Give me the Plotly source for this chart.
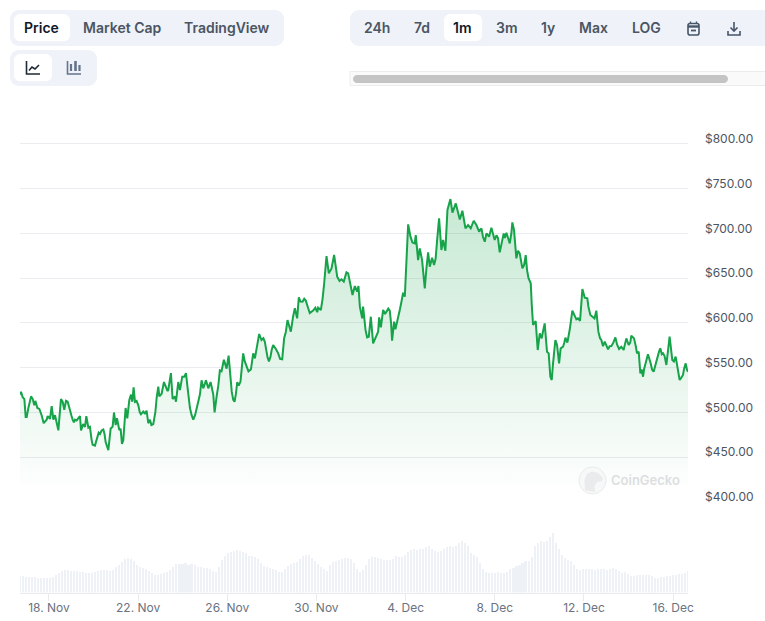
import pandas as pd
import plotly.graph_objects as go

W, H = 765, 621

# Hours elapsed since the first sample, and the price at each of those hours (USD)
price_hours = [
    0, 1.1, 2.9, 4.7, 6.1, 7.2, 9, 11.9, 13.7, 15.4, 16.5, 18.7, 20.8, 23.3, 25.5, 28.7, 29.8, 32.3, 34.1, 35.9,
    37.7, 41.3, 44.1, 45.9, 47.7, 49.5, 51.3, 53.8, 56.7, 59.2, 61, 64.6, 65.7, 70, 71.4, 73.6, 75.3, 78.2, 80.7, 82.5,
    84.7, 87.9, 89.7, 92.2, 95.1, 97.6, 99.7, 101.2, 103, 104.4, 106.9, 108.3, 109.8, 111.2, 113.7, 115.5, 117.7, 119.5, 120.9, 122.3,
    123.8, 127.4, 130.2, 132.7, 136.3, 138.1, 139.9, 143.5, 145.7, 148.9, 150, 152.5, 155, 157.9, 159.6, 162.5, 164.3, 166.8, 167.9, 170.4,
    172.2, 174.7, 176.9, 178.7, 180.5, 184.8, 186.5, 190.1, 193.7, 195.5, 197.3, 200.2, 202.7, 205.2, 208.1, 209.5, 211.7, 215.2, 217, 219.5,
    222.4, 224.6, 226.7, 229.6, 232.5, 233.9, 237.4, 240.3, 243.9, 248.6, 251.1, 252.9, 257.5, 260, 263.6, 266.5, 269.7, 272.6, 278, 282.3,
    284.4, 288, 291.6, 295.9, 298.4, 300.2, 304.2, 307.7, 310.3, 315.6, 321, 323.9, 325.7, 327.5, 330, 332.5, 335.4, 338.2, 341.5, 346.1,
    348.6, 351.5, 353.3, 355.8, 358, 360.5, 363, 364.4, 365.9, 368.4, 369.4, 372, 373.7, 375.5, 377.7, 380.2, 385.6, 386.7, 388.5, 391,
    394.6, 398.1, 400.6, 402.8, 404.2, 407.1, 410.7, 412.5, 414.3, 417.9, 420.4, 425, 426.1, 428.6, 430.4, 432.9, 435.8, 439.4, 441.2, 443.7,
    445.8, 449.1, 451.2, 453.7, 455.5, 458, 460.2, 463.4, 465.6, 469.2, 473.5, 476.3, 479.6, 482.4, 485.3, 488.5, 491.4, 494.3, 496.8, 500.4,
    502.2, 505, 507.5, 511.1, 514.7, 516.5, 520.8, 523.7, 527.3, 530.1, 531.9, 534.4, 536.2, 538, 540.9, 542.7, 544.5, 545.9, 549.9, 552.4,
    555.2, 557.4, 559.6, 561.7, 564.9, 567.4, 569.2, 571, 572.5, 573.9, 576.4, 578.2, 580.4, 582.1, 584.7, 587.2, 589.3, 591.8, 594.7, 597.2,
    600.8, 603, 605.5, 608, 610.8, 614.1, 616.9, 620.5, 622.7, 625.9, 629.5, 633.1, 636.7, 641, 642.8, 647.4, 649.9, 652.8, 655.3, 658.2,
    661.1, 664.3, 666.1, 667.9, 670.8, 673.6, 676.1, 679, 682.2, 684.4, 689.4, 692.3, 695.9, 699.4, 702.3, 705.9, 710.2, 713.8, 716.7, 719.2,
]
price_usd = [
    520, 523, 517, 515, 495, 495, 505, 518, 515, 508, 513, 505, 504, 497, 488, 492, 496, 493, 507, 492,
    497, 480, 515, 512, 503, 513, 512, 501, 492, 492, 491, 496, 480, 484, 496, 483, 484, 464, 463, 469,
    477.5, 480, 481, 467, 458, 482, 484, 500, 486, 493.5, 480.5, 482, 465, 469, 505, 493.5, 514, 520, 512, 528,
    512, 508, 498, 501, 502, 488, 492, 487, 500, 529, 518, 521, 534, 527, 525, 544, 515, 518, 512, 534,
    525, 540, 540, 544, 527, 497, 492, 505, 520, 536, 527, 536, 527, 534, 520, 500, 518, 547, 546, 559,
    549, 563.5, 536, 514, 521, 534, 534.5, 566, 551, 548, 566, 560.5, 587.7, 581, 579, 561.6, 562.4, 575.4, 566, 559.4,
    582.9, 603.3, 590.3, 616.4, 605.2, 628.7, 623.8, 625, 616.4, 613.8, 617.1, 614.5, 626.4, 644.3, 674.8, 655.5, 661, 676, 651.7, 648.8,
    646.2, 656.6, 655.5, 643.6, 631.3, 641.3, 635, 641.3, 618.2, 605.2, 618.2, 592.2, 584, 584.7, 607, 577.3, 590.3, 606.3, 595.2, 614.5,
    612.7, 613.8, 580.3, 601.5, 593, 605.2, 623.8, 633.9, 629.4, 710.2, 696.4, 689, 698.2, 670.3, 683.3, 670.3, 638.7, 678.9, 662.9, 672.9,
    664.7, 692.7, 716.9, 681.5, 692.7, 680.7, 726.2, 738.4, 723.2, 733.6, 715.7, 725.4, 705.7, 709.4, 705.7, 714.2, 709.4, 702, 705.7, 690.8,
    700.1, 696.4, 706.4, 692.7, 694.5, 678.9, 700.1, 700.8, 688.9, 712.4, 703.8, 672.2, 680.7, 677.8, 661, 664.7, 675.9, 659.1, 644.3, 597.7,
    602.2, 569.8, 588.4, 582.8, 599.6, 567.9, 566.1, 540, 536.3, 554.9, 581, 575.4, 554.9, 571.7, 573.5, 583.6, 578, 592.1, 613.7, 607,
    605.2, 602.5, 637.9, 628.2, 627.5, 608.9, 606.3, 613.7, 590.3, 581, 579.1, 570.5, 574.3, 583.9, 576.1, 573.5, 569.8, 582.8, 575.4, 585.8,
    582.8, 566.1, 568, 543.7, 540, 556.8, 565, 554.9, 545.6, 554.9, 571.7, 566.1, 553.1, 584.7, 558.6, 562.4, 536.3, 541.9, 554.9, 545.6,
]

# Additional readings between the swings above
detail_hours = [
    27, 39.5, 55.5, 58, 63, 68, 77, 86.2, 91, 125.5, 129, 134.5, 137, 141.5, 147.2, 158.9, 183, 188.5, 192, 199,
    204, 213.5, 221, 228, 231, 235.5, 239, 242, 246, 250, 255, 262, 265, 268, 271, 275.5, 280, 286.2, 290, 294,
    302, 306, 312, 318, 320, 344, 382.5, 384, 393, 396.5, 399.5, 409, 416.5, 422.5, 437.5, 447.5, 471.5, 478, 498.5, 509,
    513, 518.5, 522, 525.5, 529, 547.5, 551, 563, 575, 586, 599, 612, 618.5, 624.5, 627.7, 631.3, 634.8, 638.8, 645, 651,
    657, 663, 669.3, 672, 680.5, 686.9, 688, 691, 694, 697.6, 704, 708, 712, 715, 718,
]
detail_usd = [
    490, 489, 496, 489, 494, 487, 470, 476, 476, 513, 500, 499, 497, 486, 517, 524, 505, 497, 512, 532,
    530, 530, 553, 523, 512, 530, 552, 557, 546, 556, 575, 583, 570, 557, 570, 571, 560, 590, 594, 607,
    624, 627, 611, 617, 612, 647, 583, 585, 610, 616, 600, 615, 680, 690, 660, 672, 722, 712, 696, 700,
    698, 690, 695, 695, 700, 650, 620, 590, 569, 578, 604, 618, 605, 583, 574, 575, 574, 578, 571, 575,
    578, 574, 548, 549, 548, 562, 568, 565, 563, 570, 557, 547, 539, 549, 548,
]

# Traded volume per interval, in units of $100M
volume_100m = [
    16.5, 16.5, 16, 16, 16, 15.5, 15, 15, 14.5, 14.5, 15, 16, 17.5, 20, 22, 22.5, 22.5, 22, 21.5, 21.5,
    21, 20.5, 20, 19.5, 20, 21, 22, 22.5, 23, 23, 22, 23, 26, 28, 31, 34, 35, 34, 32, 28,
    26, 25, 24, 22, 20, 18, 18, 19, 20, 21, 23, 26, 29, 29, 29, 30, 28, 29, 28, 26,
    26, 25, 25, 24, 22, 21, 26, 33, 37, 40, 41, 42, 43, 42, 41, 40, 37, 37, 36, 34,
    30, 27, 26, 25, 24, 23, 21, 21, 24, 27, 29, 30, 31, 34, 37, 38, 38, 35, 32, 29,
    26, 24, 22, 28, 31, 32, 33, 34, 35, 35, 34, 30, 24, 21, 23, 28, 34, 36, 36, 35,
    34, 33, 33, 33, 34, 37, 36, 36, 38, 41, 43, 44, 43, 44, 44, 46, 47, 44, 42, 41,
    42, 44, 46, 47, 46, 47, 50, 52, 50, 47, 40, 38, 36, 30, 24, 21, 20, 20, 20, 21,
    20, 20, 21, 24, 25, 27, 28, 30, 32, 32, 36, 47, 50, 52, 51, 52, 56, 60, 50, 44,
    38, 35, 33, 32, 28, 24, 23, 24, 24, 24, 24, 23, 24, 24, 24, 23, 24, 25, 24, 22,
    20, 21, 19, 17, 17, 18, 18, 18, 18, 18, 17, 15, 15, 16, 16, 17, 17, 18, 18, 19,
    19, 20, 22,
]

series_start = pd.Timestamp("2024-11-16 16:48")
axis_end = series_start + pd.Timedelta(hours=719.2)

date_ticks = ["2024-11-18", "2024-11-22", "2024-11-26", "2024-11-30", "2024-12-04", "2024-12-08", "2024-12-12", "2024-12-16"]
date_labels = ["18. Nov", "22. Nov", "26. Nov", "30. Nov", "4. Dec", "8. Dec", "12. Dec", "16. Dec"]
price_ticks = [400, 450, 500, 550, 600, 650, 700, 750, 800]

tab_labels = [("Price", 41.5, True), ("Market Cap", 122, False), ("TradingView", 227, False)]
range_labels = [("24h", 377, False), ("7d", 422, False), ("1m", 463, True), ("3m", 507, False),
                ("1y", 548, False), ("Max", 593, False), ("LOG", 646, False)]

GREEN = "#16a34a"
PILL = "#eff2f8"
INK = "#111827"
MUTED = "#4b5563"
ICON = "#475569"

merged = sorted(zip(price_hours + detail_hours, price_usd + detail_usd))
price_times = [series_start + pd.Timedelta(hours=h) for h, _ in merged]
price_values = [v for _, v in merged]
step = 719.2 / (len(volume_100m) - 1)
volume_times = [series_start + pd.Timedelta(hours=i * step) for i in range(len(volume_100m))]


def px(x):
    return x / W


def py(y):
    return 1 - y / H


def path_of(points, close=False):
    cmds = [f"{'M' if i == 0 else 'L'} {px(x):.5f} {py(y):.5f}" for i, (x, y) in enumerate(points)]
    return " ".join(cmds) + (" Z" if close else "")


def round_rect(x0, y0, x1, y1, r, fill, line=None, width=1):
    k = r * 0.45
    d = (
        f"M {px(x0 + r):.5f} {py(y0):.5f} L {px(x1 - r):.5f} {py(y0):.5f} "
        f"C {px(x1 - k):.5f} {py(y0):.5f} {px(x1):.5f} {py(y0 + k):.5f} {px(x1):.5f} {py(y0 + r):.5f} "
        f"L {px(x1):.5f} {py(y1 - r):.5f} "
        f"C {px(x1):.5f} {py(y1 - k):.5f} {px(x1 - k):.5f} {py(y1):.5f} {px(x1 - r):.5f} {py(y1):.5f} "
        f"L {px(x0 + r):.5f} {py(y1):.5f} "
        f"C {px(x0 + k):.5f} {py(y1):.5f} {px(x0):.5f} {py(y1 - k):.5f} {px(x0):.5f} {py(y1 - r):.5f} "
        f"L {px(x0):.5f} {py(y0 + r):.5f} "
        f"C {px(x0):.5f} {py(y0 + k):.5f} {px(x0 + k):.5f} {py(y0):.5f} {px(x0 + r):.5f} {py(y0):.5f} Z"
    )
    return dict(type="path", xref="paper", yref="paper", path=d, fillcolor=fill,
                line=dict(color=line or fill, width=0 if line is None else width), layer="above")


def stroke(points, color, width=1.4):
    return dict(type="path", xref="paper", yref="paper", path=path_of(points),
                line=dict(color=color, width=width), layer="above")


def blob(points, fill):
    return dict(type="path", xref="paper", yref="paper", path=path_of(points, close=True),
                fillcolor=fill, line=dict(width=0), layer="above")


def label(text, x, y, size=14, color=MUTED, weight=600, anchor="center"):
    return dict(text=text, x=px(x), y=py(y), xref="paper", yref="paper", xanchor=anchor, yanchor="middle",
                showarrow=False, font=dict(family="Inter, sans-serif", size=size, color=color, weight=weight))


shapes = [
    # button groups
    round_rect(10, 10, 284, 46, 9, PILL),
    round_rect(14, 14, 70, 42, 6, "#e6e9ef"),
    round_rect(14, 14, 70, 41.5, 6, "#ffffff"),
    round_rect(10, 50, 97, 86, 9, PILL),
    round_rect(14, 54, 52, 82, 6, "#e6e9ef"),
    round_rect(14, 54, 52, 81.5, 6, "#ffffff"),
    round_rect(350, 10, 775, 46, 9, PILL),
    round_rect(444, 14, 482, 42, 6, "#e6e9ef"),
    round_rect(444, 14, 482, 41.5, 6, "#ffffff"),
    # scrollbar strip
    dict(type="rect", xref="paper", yref="paper", x0=px(350), x1=1.01, y0=py(85.5), y1=py(71.5),
         fillcolor="#fafafa", line=dict(color="#ececec", width=1), layer="above"),
    round_rect(353, 75, 728, 83, 4, "#c4c4c4"),
    # line-chart icon
    stroke([(26.5, 61), (26.5, 74), (40, 74)], "#1f2937", 1.6),
    stroke([(29, 70.5), (32, 67), (35, 69), (39, 65)], "#1f2937", 1.6),
    # candlestick icon
    stroke([(67.5, 61), (67.5, 74), (81, 74)], "#64748b", 1.6),
    stroke([(71, 64), (71, 71)], "#64748b", 2.2),
    stroke([(75.5, 61), (75.5, 71)], "#64748b", 2.6),
    stroke([(79.5, 65), (79.5, 71)], "#64748b", 2.2),
    # calendar icon
    round_rect(688, 23.5, 699, 35, 2, PILL, line=ICON, width=1.6),
    stroke([(688, 26.5), (699, 26.5)], ICON, 2.4),
    stroke([(691, 30.5), (696, 30.5)], ICON, 1.8),
    stroke([(690.5, 21.5), (690.5, 24)], ICON, 1.4),
    stroke([(696.5, 21.5), (696.5, 24)], ICON, 1.4),
    # download icon
    stroke([(734, 22), (734, 31)], ICON, 1.6),
    stroke([(730.5, 27.5), (734, 31), (737.5, 27.5)], ICON, 1.6),
    stroke([(728, 31), (728, 35), (740, 35), (740, 31)], ICON, 1.6),
    # watermark badge
    dict(type="circle", xref="paper", yref="paper", x0=px(579), x1=px(606), y0=py(494), y1=py(467),
         fillcolor="#f7f8f8", line=dict(color="#e9ebec", width=1), layer="above"),
    blob([(585, 490), (584.5, 480), (587, 474), (592, 471.5), (598, 473), (603, 478), (602, 481),
          (597, 482), (594.5, 486), (595, 492)], "#e9ebec"),
]

annotations = [label(t, x, 28, color=INK if on else MUTED) for t, x, on in tab_labels]
annotations += [label(t, x, 28, color=INK if on else MUTED) for t, x, on in range_labels]
annotations.append(label("CoinGecko", 645, 479.5, size=13, color="#dcdee1"))

fig = go.Figure()

fig.add_trace(go.Bar(
    x=volume_times, y=volume_100m, xaxis="x", yaxis="y2",
    marker=dict(color="#eef1f5", line=dict(width=0)), width=2.2 * 3600 * 1000,
    hoverinfo="skip", showlegend=False,
))

fig.add_trace(go.Scatter(
    x=price_times, y=price_values, xaxis="x", yaxis="y", mode="lines",
    line=dict(color=GREEN, width=2),
    fill="tozeroy",
    fillcolor="rgba(22,163,74,0.2)",
    fillgradient=dict(
        type="vertical", start=738, stop=417,
        colorscale=[[0, "rgba(22,163,74,0.24)"], [0.98, "rgba(22,163,74,0.015)"], [1, "rgba(22,163,74,0)"]],
    ),
    showlegend=False,
))

fig.update_layout(
    width=W, height=H, autosize=False,
    margin=dict(l=0, r=0, t=0, b=0, autoexpand=False),
    paper_bgcolor="#ffffff", plot_bgcolor="rgba(0,0,0,0)",
    bargap=0, showlegend=False,
    shapes=shapes, annotations=annotations,
    xaxis=dict(
        domain=[px(20), px(688)], anchor="y2", type="date", automargin=False,
        range=[series_start, axis_end],
        tickvals=date_ticks, ticktext=date_labels, ticks="outside", ticklen=7, tickwidth=1, tickcolor="#e8eaee",
        showgrid=False, zeroline=False, showline=True, linecolor="#e8eaee", linewidth=1,
        ticklabelstandoff=-3,
        tickfont=dict(family="Inter, sans-serif", size=12, color="#6b7280"),
    ),
    yaxis=dict(
        domain=[py(502), py(130)], anchor="x", side="right", automargin=False,
        range=[400, 815.6],
        tickvals=price_ticks, tickformat="$.2f",
        showgrid=True, gridcolor="#eaecef", gridwidth=1, zeroline=False, showline=False, ticks="",
        ticklabelstandoff=16, ticklabelshift=-5,
        tickfont=dict(family="Inter, sans-serif", size=12, color="#4b5563"),
    ),
    yaxis2=dict(
        domain=[py(592.5), py(500)], anchor="x", range=[0, 92.5], automargin=False,
        visible=False, showgrid=False, zeroline=False,
    ),
)

fig.write_html("out.html")
